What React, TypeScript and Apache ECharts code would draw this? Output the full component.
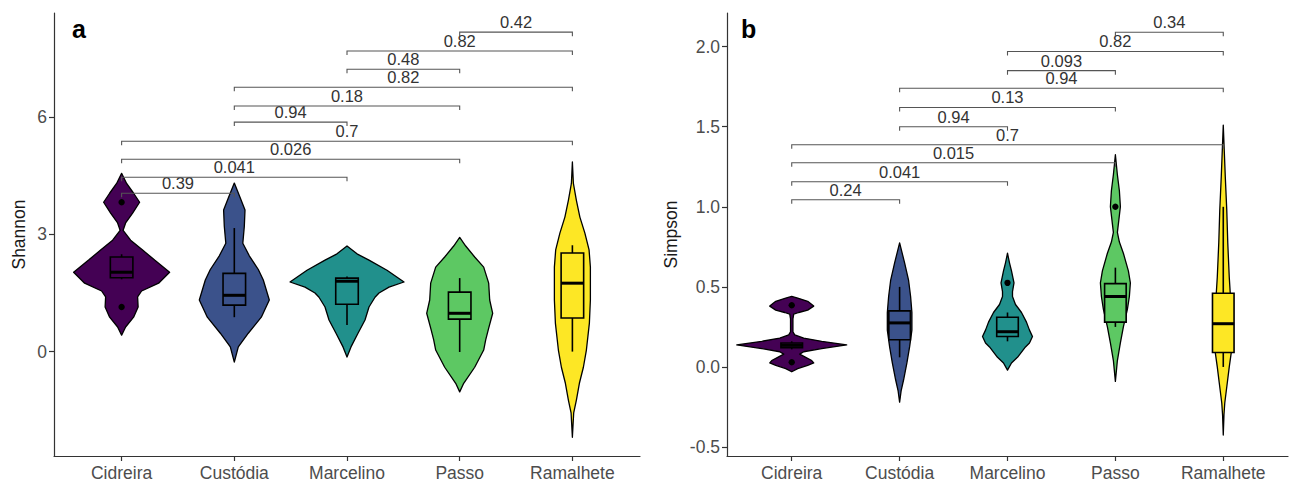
import React, { useEffect, useRef } from 'react';
import * as echarts from 'echarts';

const categories = ['Cidreira', 'Custódia', 'Marcelino', 'Passo', 'Ramalhete'];
const colors = ['#440154', '#3B528B', '#21908C', '#5DC863', '#FDE725'];
const FONT = 'Liberation Sans, Arial, Helvetica, sans-serif';

// Shannon: violin outlines as [value, relative density]
const shannonCidreira = [[4.56,0],[4.3,5],[4.05,12],[3.82,18],[3.54,11],[3.29,4],[3.1,1.5],[2.85,9],[2.6,21],[2.34,33],[2.03,48],[1.75,37],[1.55,20],[1.4,16],[1.14,16.5],[0.88,12],[0.63,4],[0.42,0]];
const shannonCustodia = [[4.31,0],[3.95,5.7],[3.62,10.7],[3.2,10],[2.77,8.5],[2.45,15],[2.1,24],[1.83,29],[1.32,35],[0.88,27],[0.47,14],[0.12,4],[-0.27,0]];
const shannonMarcelino = [[2.7,0],[2.5,10],[2.34,22],[2.08,40],[1.78,57],[1.65,42],[1.5,32],[1.39,28],[1.14,22],[0.81,18],[0.47,11],[0.12,4],[-0.14,0]];
const shannonPasso = [[2.92,0],[2.7,6],[2.42,15],[2.16,24],[1.75,29],[1.32,30],[0.98,33],[0.6,29],[0.3,26],[0.04,24],[-0.4,15],[-0.81,4],[-1.03,0]];
const shannonRamalhete = [[4.85,0],[4.3,1],[3.87,4],[3.44,7.5],[3.03,12.5],[2.6,16.7],[2.16,18],[1.32,18],[0.73,17],[0.04,14],[-0.4,11],[-0.81,7],[-1.24,4],[-1.57,1.3],[-2.19,0]];
// [lower whisker, Q1, median, Q3, upper whisker]
const shannonBoxes = [[1.85,1.89,2.03,2.42,2.49],[0.88,1.19,1.44,2.0,3.16],[0.68,1.21,1.8,1.88,1.92],[-0.01,0.83,0.98,1.52,1.88],[0.0,0.86,1.75,2.52,2.72]];
const shannonOutliers = [[3.82,1.14],[],[],[],[]];
// [group a, group b, bracket height, p-value]
const shannonTests = [[1,2,4.05,'0.39'],[1,3,4.46,'0.041'],[1,4,4.92,'0.026'],[1,5,5.38,'0.7'],[2,3,5.87,'0.94'],[2,4,6.28,'0.18'],[2,5,6.76,'0.82'],[3,4,7.22,'0.48'],[3,5,7.69,'0.82'],[4,5,8.17,'0.42']];
const shannonTicks = [0, 3, 6];

// Simpson
const simpsonCidreira = [[0.44,0],[0.43,6],[0.41,16],[0.38,22],[0.355,16],[0.34,7],[0.33,2],[0.3,1.2],[0.22,1.2],[0.2,3],[0.18,12],[0.16,30],[0.1375,55],[0.115,30],[0.095,12],[0.08,8],[0.06,14],[0.04,20],[0.025,22],[0.01,16],[-0.01,6],[-0.03,0]];
const simpsonCustodia = [[0.775,0],[0.7,3],[0.65,5],[0.54,9],[0.44,11],[0.34,12.3],[0.23,12.3],[0.125,10],[0.025,7.3],[-0.08,4],[-0.15,1.5],[-0.22,0]];
const simpsonMarcelino = [[0.71,0],[0.65,2],[0.6,4],[0.525,6.5],[0.47,5],[0.44,5],[0.39,8],[0.34,14],[0.28,19],[0.23,22],[0.19,25],[0.15,22],[0.125,18],[0.06,10],[0.025,4],[-0.02,0]];
const simpsonPasso = [[1.325,0],[1.2,2],[1.1,4],[1.0,5],[0.92,3.5],[0.84,2],[0.78,4],[0.71,8],[0.6,13],[0.525,15],[0.44,14],[0.36,12],[0.25,8],[0.15,5],[0.04,2],[-0.09,0]];
const simpsonRamalhete = [[1.51,0],[1.35,1],[1.19,2],[0.98,3.5],[0.775,4.5],[0.56,6],[0.46,7],[0.3,8.5],[0.15,9],[0.09,8],[0.0,6],[-0.1,4],[-0.225,1.5],[-0.3,0.7],[-0.425,0]];
const simpsonBoxes = [[0.11,0.12,0.135,0.15,0.16],[0.06,0.17,0.275,0.35,0.5],[0.16,0.19,0.22,0.31,0.34],[0.25,0.28,0.44,0.52,0.62],[0.0,0.09,0.27,0.46,1.0]];
const simpsonOutliers = [[0.385,0.03],[],[0.525],[1.0],[]];
const simpsonTests = [[1,2,1.044,'0.24'],[1,3,1.156,'0.041'],[1,4,1.275,'0.015'],[1,5,1.3875,'0.7'],[2,3,1.5,'0.94'],[2,4,1.62,'0.13'],[2,5,1.74,'0.94'],[3,4,1.85,'0.093'],[3,5,1.97,'0.82'],[4,5,2.09,'0.34']];
const simpsonTicks = [-0.5, 0, 0.5, 1, 1.5, 2];

const shannonProfiles = [shannonCidreira, shannonCustodia, shannonMarcelino, shannonPasso, shannonRamalhete];
const simpsonProfiles = [simpsonCidreira, simpsonCustodia, simpsonMarcelino, simpsonPasso, simpsonRamalhete];

function violinRenderer(profiles: number[][][], boxes: number[][], outliers: number[][], scale: number) {
  return (params: any, api: any) => {
    const i = params.dataIndex;
    const cx = i + 1;
    const prof = profiles[i];
    const right = prof.map(([v, d]) => api.coord([cx + d * scale, v]));
    const left = prof.slice().reverse().map(([v, d]) => api.coord([cx - d * scale, v]));
    const [wl, q1, med, q3, wh] = boxes[i];
    const bw = 0.1;
    const pTop = api.coord([cx, wh]);
    const pBot = api.coord([cx, wl]);
    const bl = api.coord([cx - bw, q3]);
    const br = api.coord([cx + bw, q1]);
    const ml = api.coord([cx - bw, med]);
    const mr = api.coord([cx + bw, med]);
    const children: any[] = [
      { type: 'polygon', shape: { points: right.concat(left) }, style: { fill: colors[i], stroke: '#000', lineWidth: 1.3, lineJoin: 'round' } },
      { type: 'line', shape: { x1: pTop[0], y1: pTop[1], x2: pBot[0], y2: pBot[1] }, style: { stroke: '#000', lineWidth: 1.6 } },
      { type: 'rect', shape: { x: bl[0], y: bl[1], width: br[0] - bl[0], height: br[1] - bl[1] }, style: { fill: colors[i], stroke: '#000', lineWidth: 1.6 } },
      { type: 'line', shape: { x1: ml[0], y1: ml[1], x2: mr[0], y2: mr[1] }, style: { stroke: '#000', lineWidth: 3 } },
    ];
    outliers[i].forEach((o) => {
      const p = api.coord([cx, o]);
      children.push({ type: 'circle', shape: { cx: p[0], cy: p[1], r: 3.2 }, style: { fill: '#000' } });
    });
    return { type: 'group', children };
  };
}

function bracketRenderer(tests: any[]) {
  return (params: any, api: any) => {
    const [a, b, y, label] = tests[params.dataIndex];
    const p1 = api.coord([a, y]);
    const p2 = api.coord([b, y]);
    const tip = 4;
    return {
      type: 'group',
      children: [
        { type: 'polyline', shape: { points: [[p1[0], p1[1] + tip], [p1[0], p1[1]], [p2[0], p2[1]], [p2[0], p2[1] + tip]] }, style: { stroke: '#555', lineWidth: 1.1, fill: null } },
        { type: 'text', x: (p1[0] + p2[0]) / 2, y: p1[1] - 1.5, style: { text: label, fontSize: 16.5, fontFamily: FONT, fill: '#333', align: 'center', verticalAlign: 'bottom' } },
      ],
    };
  };
}

function xAxisDef(gridIndex: number) {
  return {
    type: 'value', gridIndex, min: 0.4, max: 5.6,
    axisLine: { show: true, onZero: false, lineStyle: { color: '#333', width: 1.2 } },
    axisTick: { show: true, customValues: [1, 2, 3, 4, 5], length: 5, lineStyle: { color: '#333', width: 1.2 } },
    axisLabel: { customValues: [1, 2, 3, 4, 5], formatter: (v: number) => categories[Math.round(v) - 1] || '', color: '#4d4d4d', fontSize: 17.5, fontFamily: FONT, margin: 8 },
    splitLine: { show: false },
  };
}

function yAxisDef(gridIndex: number, min: number, max: number, ticks: number[], name: string, nameGap: number, fmt: (v: number) => string) {
  return {
    type: 'value', gridIndex, min, max, name, nameLocation: 'middle', nameRotate: 90, nameGap,
    nameTextStyle: { color: '#1a1a1a', fontSize: 17.5, fontFamily: FONT },
    axisLine: { show: true, onZero: false, lineStyle: { color: '#333', width: 1.2 } },
    axisTick: { show: true, customValues: ticks, length: 5, lineStyle: { color: '#333', width: 1.2 } },
    axisLabel: { customValues: ticks, formatter: fmt, color: '#4d4d4d', fontSize: 17.5, fontFamily: FONT, margin: 7 },
    splitLine: { show: false },
  };
}

export default function App() {
  const ref = useRef<HTMLDivElement>(null);
  useEffect(() => {
    const chart = echarts.init(ref.current!, null, { renderer: 'svg' });
    chart.setOption({
      animation: false,
      backgroundColor: '#fff',
      grid: [
        { left: 54, top: 13, width: 586, height: 443 },
        { left: 727, top: 13, width: 561, height: 443 },
      ],
      xAxis: [xAxisDef(0), xAxisDef(1)],
      yAxis: [
        yAxisDef(0, -2.67, 8.66, shannonTicks, 'Shannon', 26, (v) => String(v)),
        yAxisDef(1, -0.556, 2.21, simpsonTicks, 'Simpson', 47, (v) => v.toFixed(1)),
      ],
      graphic: [
        { type: 'text', left: 72, top: 16, style: { text: 'a', fontSize: 25, fontWeight: 'bold', fontFamily: FONT, fill: '#000' } },
        { type: 'text', left: 741, top: 16, style: { text: 'b', fontSize: 25, fontWeight: 'bold', fontFamily: FONT, fill: '#000' } },
      ],
      series: [
        { type: 'custom', xAxisIndex: 0, yAxisIndex: 0, renderItem: violinRenderer(shannonProfiles, shannonBoxes, shannonOutliers, 1 / 112.7), data: categories.map((_, i) => [i + 1, shannonBoxes[i][2]]), clip: false },
        { type: 'custom', xAxisIndex: 0, yAxisIndex: 0, renderItem: bracketRenderer(shannonTests), data: shannonTests.map((t) => [(t[0] as number + (t[1] as number)) / 2, t[2]]), clip: false },
        { type: 'custom', xAxisIndex: 1, yAxisIndex: 1, renderItem: violinRenderer(simpsonProfiles, simpsonBoxes, simpsonOutliers, 1 / 108), data: categories.map((_, i) => [i + 1, simpsonBoxes[i][2]]), clip: false },
        { type: 'custom', xAxisIndex: 1, yAxisIndex: 1, renderItem: bracketRenderer(simpsonTests), data: simpsonTests.map((t) => [(t[0] as number + (t[1] as number)) / 2, t[2]]), clip: false },
      ],
    });
    return () => chart.dispose();
  }, []);
  return <div ref={ref} style={{ position: 'fixed', left: 0, top: 0, width: 1292, height: 486, background: '#fff' }} />;
}
